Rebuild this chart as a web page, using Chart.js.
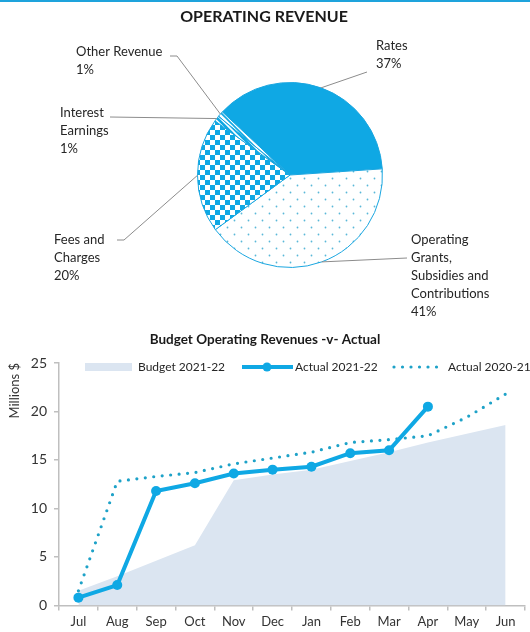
<!DOCTYPE html>
<html>
<head>
<meta charset="utf-8">
<script src="https://cdn.jsdelivr.net/npm/chart.js@4.4.1/dist/chart.umd.min.js"></script>
<style>
    body { margin: 0; background: #fff; font-family: Lato, sans-serif; }
    #page { position: relative; width: 530px; height: 632px; overflow: hidden; border-top: 2px solid #1ea3dc; box-sizing: border-box; }
    #pieBox { position: absolute; left: 0; top: -2px; width: 530px; height: 320px; }
    #lineBox { position: absolute; left: 0; top: 320px; width: 530px; height: 312px; }
</style>
</head>
<body>
<div id="page">
    <div id="pieBox"><canvas id="pieChart" width="530" height="320"></canvas></div>
    <div id="lineBox"><canvas id="lineChart" width="530" height="312"></canvas></div>
</div>
<script>
// Dados do gráfico de pizza
const pieLabels = ['Rates', 'Operating Grants, Subsidies and Contributions', 'Fees and Charges', 'Interest Earnings', 'Other Revenue'];
const pieValues = [37, 41, 20, 1, 1];

// Dados do gráfico de linhas
const months = ['Jul', 'Aug', 'Sep', 'Oct', 'Nov', 'Dec', 'Jan', 'Feb', 'Mar', 'Apr', 'May', 'Jun'];
const budget2122 = [1.5, 3.0, 4.6, 6.2, 12.9, 13.5, 14.0, 14.9, 15.8, 16.8, 17.7, 18.6];
const actual2122 = [0.8, 2.1, 11.8, 12.6, 13.6, 14.0, 14.3, 15.7, 16.0, 20.5, null, null];
const actual2021 = [1.5, 12.8, 13.3, 13.7, 14.6, 15.2, 15.8, 16.8, 17.1, 17.5, 19.4, 21.8];
const yTicks = [0, 5, 10, 15, 20, 25];

const BLUE = '#0fa8e4';
const TEAL = '#1ea2c8';

function makePattern(size, draw) {
    const c = document.createElement('canvas');
    c.width = size; c.height = size;
    const g = c.getContext('2d');
    draw(g);
    return g.createPattern(c, 'repeat');
}

const solidRates = BLUE;
const dotsPattern = makePattern(14, g => {
    g.fillStyle = '#fff'; g.fillRect(0, 0, 14, 14);
    g.fillStyle = '#5ab8d8';
    g.beginPath(); g.arc(3.5, 3.5, 0.9, 0, Math.PI * 2); g.fill();
    g.beginPath(); g.arc(10.5, 10.5, 0.9, 0, Math.PI * 2); g.fill();
});
const checkerPattern = makePattern(10, g => {
    g.fillStyle = BLUE; g.fillRect(0, 0, 10, 10);
    g.fillStyle = '#fff';
    g.fillRect(0, 0, 5, 5);
    g.fillRect(5, 5, 5, 5);
});
const stripeBlue = makePattern(6, g => {
    g.fillStyle = BLUE; g.fillRect(0, 0, 6, 6);
    g.strokeStyle = '#fff'; g.lineWidth = 1.6;
    g.beginPath(); g.moveTo(0, 0); g.lineTo(6, 6); g.moveTo(-3, 3); g.lineTo(3, 9); g.moveTo(3, -3); g.lineTo(9, 3); g.stroke();
});
const stripeWhite = makePattern(6, g => {
    g.fillStyle = '#fff'; g.fillRect(0, 0, 6, 6);
    g.strokeStyle = BLUE; g.lineWidth = 1.6;
    g.beginPath(); g.moveTo(0, 0); g.lineTo(6, 6); g.moveTo(-3, 3); g.lineTo(3, 9); g.moveTo(3, -3); g.lineTo(9, 3); g.stroke();
});

// Rótulos externos com linhas de chamada
const pieCallouts = [
    { lines: ['Rates', '37%'], x: 376, y: 46, path: [[367, 72]] },
    { lines: ['Operating', 'Grants,', 'Subsidies and', 'Contributions', '41%'], x: 411, y: 240, path: [[407, 258]] },
    { lines: ['Fees and', 'Charges', '20%'], x: 54, y: 240, path: [[124, 240], [117, 240]] },
    { lines: ['Interest', 'Earnings', '1%'], x: 60, y: 113, path: [[110, 117]] },
    { lines: ['Other Revenue', '1%'], x: 76, y: 52, path: [[177, 56], [170, 56]] }
];

const pieLabelPlugin = {
    id: 'pieLabels',
    afterDraw(chart) {
        const ctx = chart.ctx;
        ctx.save();
        // título
        ctx.fillStyle = '#1a1a1a';
        ctx.font = 'bold 16px Lato';
        ctx.textAlign = 'center';
        ctx.textBaseline = 'middle';
        ctx.fillText('OPERATING REVENUE', 264, 17);

        const arcs = chart.getDatasetMeta(0).data;
        arcs.forEach((arc, i) => {
            const info = pieCallouts[i];
            const mid = (arc.startAngle + arc.endAngle) / 2;
            const px = arc.x + Math.cos(mid) * arc.outerRadius;
            const py = arc.y + Math.sin(mid) * arc.outerRadius;
            ctx.strokeStyle = '#8c8c8c';
            ctx.lineWidth = 1;
            ctx.beginPath();
            ctx.moveTo(px, py);
            info.path.forEach(p => ctx.lineTo(p[0], p[1]));
            ctx.stroke();

            ctx.fillStyle = '#262626';
            ctx.font = '13px Lato';
            ctx.textAlign = 'left';
            info.lines.forEach((t, k) => ctx.fillText(t, info.x, info.y + k * 18));
        });
        ctx.restore();
    }
};

new Chart(document.getElementById('pieChart'), {
    type: 'pie',
    data: {
        labels: pieLabels,
        datasets: [{
            data: pieValues,
            backgroundColor: [solidRates, dotsPattern, checkerPattern, stripeBlue, stripeWhite],
            borderColor: '#1aa6e0',
            borderWidth: 1
        }]
    },
    options: {
        responsive: false,
        animation: false,
        rotation: -47,
        layout: { padding: { top: 81, bottom: 51, left: 197, right: 147 } },
        plugins: { legend: { display: false }, tooltip: { enabled: false } }
    },
    plugins: [pieLabelPlugin]
});

// Título e legenda desenhados manualmente (a legenda fica dentro da área do gráfico)
const lineDecorPlugin = {
    id: 'lineDecor',
    afterDraw(chart) {
        const ctx = chart.ctx;
        ctx.save();
        ctx.fillStyle = '#1a1a1a';
        ctx.font = 'bold 13.5px Lato';
        ctx.textAlign = 'center';
        ctx.textBaseline = 'middle';
        ctx.fillText('Budget Operating Revenues -v- Actual', 265, 18);

        const ly = 45;
        ctx.font = '12px Lato';
        ctx.textAlign = 'left';
        ctx.fillStyle = '#dbe5f1';
        ctx.fillRect(85, ly - 4, 47, 8);
        ctx.fillStyle = '#262626';
        ctx.fillText('Budget 2021-22', 138, ly);

        ctx.strokeStyle = BLUE; ctx.lineWidth = 4;
        ctx.beginPath(); ctx.moveTo(242, ly); ctx.lineTo(293, ly); ctx.stroke();
        ctx.fillStyle = BLUE;
        ctx.beginPath(); ctx.arc(267, ly, 4.5, 0, Math.PI * 2); ctx.fill();
        ctx.fillStyle = '#262626';
        ctx.fillText('Actual 2021-22', 295, ly);

        ctx.strokeStyle = TEAL; ctx.lineWidth = 3.2; ctx.lineCap = 'round';
        ctx.setLineDash([0, 8.5]);
        ctx.beginPath(); ctx.moveTo(394, ly); ctx.lineTo(440, ly); ctx.stroke();
        ctx.setLineDash([]);
        ctx.fillText('Actual 2020-21', 448, ly);
        ctx.restore();
    }
};

new Chart(document.getElementById('lineChart'), {
    type: 'line',
    data: {
        labels: months,
        datasets: [
            {
                label: 'Actual 2021-22',
                data: actual2122,
                borderColor: BLUE,
                backgroundColor: BLUE,
                borderWidth: 4,
                pointRadius: 5,
                pointBackgroundColor: BLUE,
                pointBorderWidth: 0,
                spanGaps: false,
                order: 1
            },
            {
                label: 'Actual 2020-21',
                data: actual2021,
                borderColor: TEAL,
                borderWidth: 3.2,
                borderDash: [0, 8.5],
                borderCapStyle: 'round',
                pointRadius: 0,
                fill: false,
                order: 2
            },
            {
                label: 'Budget 2021-22',
                data: budget2122,
                borderColor: 'rgba(0,0,0,0)',
                borderWidth: 0,
                backgroundColor: '#dbe5f1',
                fill: 'origin',
                pointRadius: 0,
                order: 3
            }
        ]
    },
    options: {
        responsive: false,
        animation: false,
        layout: { padding: { top: 41, right: 0, bottom: 0, left: 0 } },
        plugins: { legend: { display: false }, tooltip: { enabled: false } },
        scales: {
            x: {
                offset: true,
                grid: { offset: true, drawOnChartArea: false, drawTicks: true, tickLength: 5, color: '#bfbfbf', lineWidth: 1.5 },
                border: { color: '#bfbfbf', width: 1.5 },
                ticks: { color: '#333', font: { family: 'Lato', size: 13 }, padding: 4, maxRotation: 0, autoSkip: false }
            },
            y: {
                min: 0,
                max: 25,
                afterBuildTicks: axis => { axis.ticks = yTicks.map(v => ({ value: v })); },
                afterFit: axis => { axis.width = 59; },
                grid: { drawOnChartArea: false, tickLength: 5, color: '#bfbfbf', lineWidth: 1.5 },
                border: { color: '#bfbfbf', width: 1.5 },
                ticks: { color: '#333', font: { family: 'Lato', size: 14 }, padding: 7 },
                title: { display: true, text: 'Millions $', align: 'end', color: '#333', font: { family: 'Lato', size: 13 }, padding: { top: 7, bottom: 0 } }
            }
        }
    },
    plugins: [lineDecorPlugin]
});
</script>
</body>
</html>
